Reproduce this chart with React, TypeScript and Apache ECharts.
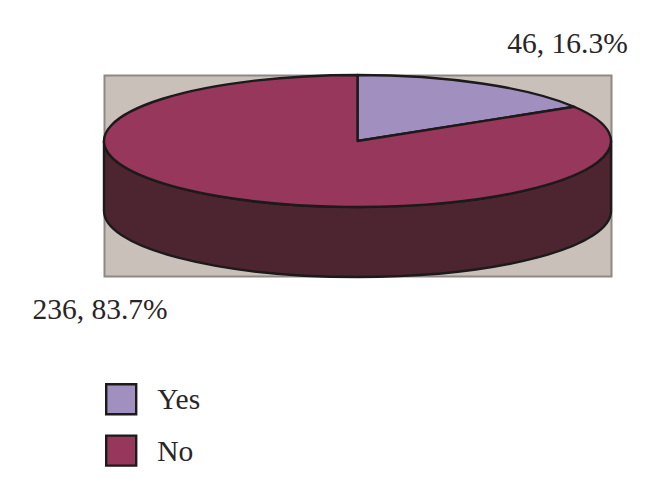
import React, { useEffect, useRef } from "react";
import * as echarts from "echarts";

const categories = ["Yes", "No"];
const counts = [46, 236];
const percents = ["16.3%", "83.7%"];

const COLORS = ["#a18fbf", "#97375b"];
const WALL = "#4d2530";
const BACK = "#c9c0ba";
const EDGE = "#1c1a1a";
const FONT = '"Liberation Serif", serif';
const FONT_SIZE = 29.5;
const CX = 357.5, CY = 141, RX = 253.5, RY = 66, DEPTH = 70;
const LABEL_POS = [
  { x: 567.5, y: 43 },
  { x: 100, y: 309 },
];

const total = counts.reduce((a, b) => a + b, 0);
const toAngle = (v: number) => echarts.number.linearMap(v, [0, total], [0, Math.PI * 2]);
const pt = (a: number) => [CX + RX * Math.sin(a), CY - RY * Math.cos(a)];

function renderSlice(params: any, api: any) {
  const i = params.seriesIndex;
  const before = counts.slice(0, i).reduce((a, b) => a + b, 0);
  const value = api.value(0);
  const a0 = toAngle(before);
  const a1 = toAngle(before + value);
  const [x0, y0] = pt(a0);
  const [x1, y1] = pt(a1);
  const large = a1 - a0 > Math.PI ? 1 : 0;
  const children: any[] = [];
  if (a1 > Math.PI) {
    const left = CX - RX, right = CX + RX;
    children.push({
      type: "path",
      shape: {
        pathData: `M${left} ${CY}A${RX} ${RY} 0 0 0 ${right} ${CY}L${right} ${CY + DEPTH}A${RX} ${RY} 0 0 1 ${left} ${CY + DEPTH}Z`,
      },
      style: { fill: WALL, stroke: EDGE, lineWidth: 2.4 },
    });
  }
  children.push({
    type: "path",
    shape: {
      pathData: `M${CX} ${CY}L${x0} ${y0}A${RX} ${RY} 0 ${large} 1 ${x1} ${y1}Z`,
    },
    style: { fill: COLORS[i], stroke: EDGE, lineWidth: 2.4, lineJoin: "round" },
  });
  children.push({
    type: "text",
    style: {
      x: LABEL_POS[i].x,
      y: LABEL_POS[i].y,
      text: `${value}, ${percents[i]}`,
      fill: "#2a2526",
      font: `${FONT_SIZE}px ${FONT}`,
      align: "center",
      verticalAlign: "middle",
    },
  });
  return { type: "group", children };
}

export default function App() {
  const ref = useRef<HTMLDivElement>(null);
  useEffect(() => {
    document.body.style.margin = "0";
    const chart = echarts.init(ref.current!, null, { renderer: "svg" });
    chart.setOption({
      animation: false,
      backgroundColor: "#ffffff",
      tooltip: { show: false },
      graphic: [
        {
          type: "rect",
          z: 0,
          silent: true,
          shape: { x: 104.5, y: 75.5, width: 507, height: 201 },
          style: { fill: BACK, stroke: "#8f8782", lineWidth: 2 },
        },
      ],
      legend: {
        orient: "vertical",
        left: 105,
        top: 383,
        padding: 0,
        itemWidth: 30,
        itemHeight: 30,
        itemGap: 19,
        icon: "rect",
        selectedMode: false,
        data: categories,
        itemStyle: { borderColor: EDGE, borderWidth: 2.4 },
        textStyle: { fontFamily: FONT, fontSize: FONT_SIZE, color: "#2a2526", padding: [2, 0, 0, 16] },
      },
      series: categories.map((name, i) => ({
        type: "custom",
        name,
        coordinateSystem: "none",
        silent: true,
        z: 2 + i,
        itemStyle: { color: COLORS[i] },
        data: [[counts[i]]],
        renderItem: renderSlice,
      })),
    });
    return () => chart.dispose();
  }, []);
  return <div ref={ref} style={{ width: 660, height: 500 }} />;
}
